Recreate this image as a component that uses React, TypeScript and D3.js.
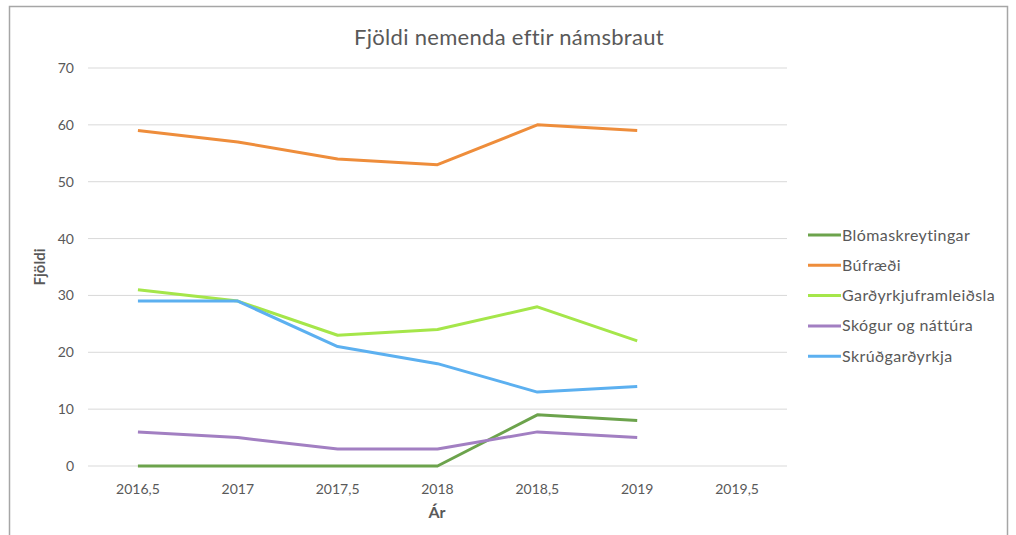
import * as d3 from "d3";

const years = [2016.5, 2017, 2017.5, 2018, 2018.5, 2019];
const xTicks = [2016.5, 2017, 2017.5, 2018, 2018.5, 2019, 2019.5];
const yTicks = [0, 10, 20, 30, 40, 50, 60, 70];

const seriesNames = [
  "Blómaskreytingar",
  "Búfræði",
  "Garðyrkjuframleiðsla",
  "Skógur og náttúra",
  "Skrúðgarðyrkja",
];
const blomaskreytingar = [0, 0, 0, 0, 9, 8];
const bufraedi = [59, 57, 54, 53, 60, 59];
const gardyrkjuframleidsla = [31, 29, 23, 24, 28, 22];
const skogur = [6, 5, 3, 3, 6, 5];
const skrudgardyrkja = [29, 29, 21, 18, 13, 14];
const seriesValues = [blomaskreytingar, bufraedi, gardyrkjuframleidsla, skogur, skrudgardyrkja];
const colors = ["#6ca34c", "#ee8d3b", "#a5e64a", "#a27fc2", "#5cb0f0"];

const W = 1016;
const H = 535;
const font = "Lato, 'Open Sans', sans-serif";

export default function App() {
  const x = d3.scaleLinear().domain([2016.25, 2019.75]).range([88, 787]);
  const y = d3.scaleLinear().domain([0, 70]).range([466, 68]);
  const line = d3
    .line<[number, number]>()
    .x((d) => x(d[0]))
    .y((d) => y(d[1]));
  const fmt = (v: number) => String(v).replace(".", ",");

  return (
    <svg
      width={W}
      height={H}
      style={{ position: "absolute", left: 0, top: 0, background: "#fff" }}
      fontFamily={font}
    >
      {/* frame */}
      <path d={`M9.5,${H} V6.5 H1007.5 V${H}`} fill="none" stroke="#a6a6a6" strokeWidth={1.5} />

      <text x={509} y={45} textAnchor="middle" fontSize={22} letterSpacing={0.3} fill="#595959">
        Fjöldi nemenda eftir námsbraut
      </text>

      {/* grid + y labels */}
      {yTicks.map((t) => (
        <g key={t}>
          <line x1={88} x2={787} y1={y(t)} y2={y(t)} stroke="#d9d9d9" strokeWidth={1} />
          <text x={74} y={y(t) + 5} textAnchor="end" fontSize={14} fill="#595959">
            {t}
          </text>
        </g>
      ))}

      {/* x labels */}
      {xTicks.map((t) => (
        <text key={t} x={x(t)} y={494} textAnchor="middle" fontSize={14} fill="#595959">
          {fmt(t)}
        </text>
      ))}

      <text x={437} y={518} textAnchor="middle" fontSize={16} fontWeight="bold" fill="#595959">
        Ár
      </text>
      <text
        transform={`translate(45,${y(35)}) rotate(-90)`}
        textAnchor="middle"
        fontSize={15}
        fontWeight="bold"
        fill="#595959"
      >
        Fjöldi
      </text>

      {/* series */}
      {seriesValues.map((vals, i) => (
        <path
          key={seriesNames[i]}
          d={line(years.map((yr, j) => [yr, vals[j]] as [number, number])) ?? ""}
          fill="none"
          stroke={colors[i]}
          strokeWidth={3}
          strokeLinejoin="round"
        />
      ))}

      {/* legend */}
      {seriesNames.map((name, i) => {
        const ly = 235 + i * 30.3;
        return (
          <g key={name}>
            <line x1={808} x2={841} y1={ly} y2={ly} stroke={colors[i]} strokeWidth={3} />
            <text x={842} y={ly + 5.5} fontSize={16} letterSpacing={0.4} fill="#595959">
              {name}
            </text>
          </g>
        );
      })}
    </svg>
  );
}
